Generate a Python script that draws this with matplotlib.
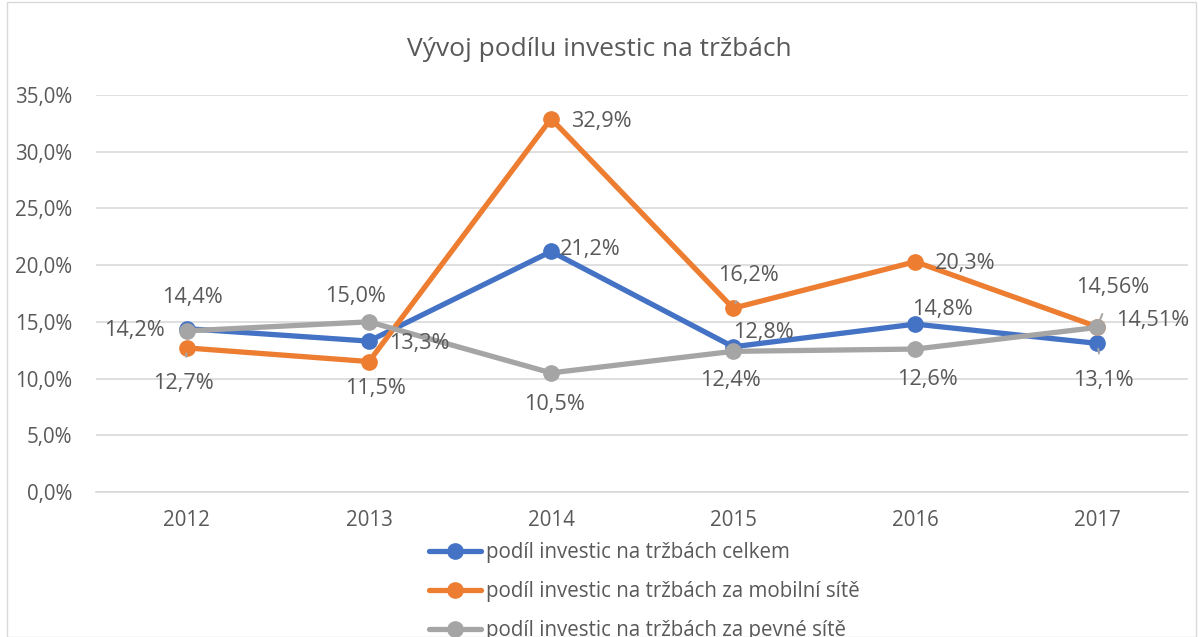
import matplotlib.pyplot as plt
from matplotlib.patches import Rectangle

# Data
years = ["2012", "2013", "2014", "2015", "2016", "2017"]
celkem = [14.4, 13.3, 21.2, 12.8, 14.8, 13.1]
mobilni = [12.7, 11.5, 32.9, 16.2, 20.3, 14.56]
pevne = [14.2, 15.0, 10.5, 12.4, 12.6, 14.51]
celkem_lbl = ["14,4%", "13,3%", "21,2%", "12,8%", "14,8%", "13,1%"]
mobilni_lbl = ["12,7%", "11,5%", "32,9%", "16,2%", "20,3%", "14,56%"]
pevne_lbl = ["14,2%", "15,0%", "10,5%", "12,4%", "12,6%", "14,51%"]
names = ["podíl investic na tržbách celkem",
         "podíl investic na tržbách za mobilní sítě",
         "podíl investic na tržbách za pevné sítě"]

# label offsets in pixels (dx, dy screen-up) and whether a leader line is drawn
celkem_off = [(6, 31, True), (50, -2, False), (39, 2, False), (30, 14, False), (27, 15, False), (6, -37, True)]
mobilni_off = [(-3, -36, True), (7, -27, False), (50, -3, False), (15, 33, True), (50, -2, False), (15, 39, True)]
pevne_off = [(-52, 0, False), (-13, 25, False), (3, -32, False), (-3, -29, False), (12, -30, False), (55, 7, False)]

colors = ["#4472c4", "#ed7d31", "#a5a5a5"]
text_color = "#595959"

plt.rcParams['font.family'] = ['Open Sans', 'DejaVu Sans']

fig = plt.figure(figsize=(11.98, 6.37), dpi=100)
ax = fig.add_axes([0.080, 0.2276, 0.912, 0.6234])

x = list(range(len(years)))
series = [(celkem, celkem_lbl, celkem_off), (mobilni, mobilni_lbl, mobilni_off), (pevne, pevne_lbl, pevne_off)]
for (vals, lbls, offs), c, name in zip(series, colors, names):
    ax.plot(x, vals, color=c, lw=3.8, marker="o", markersize=11, label=name,
            solid_capstyle="round", zorder=3)

for (vals, lbls, offs) in series:
    for xi, v, t, (dx, dy, lead) in zip(x, vals, lbls, offs):
        kw = {}
        if lead:
            kw["arrowprops"] = dict(arrowstyle="-", color="#a6a6a6", lw=1.5, shrinkA=10, shrinkB=4)
        ax.annotate(t, (xi, v), xytext=(dx * 0.72, dy * 0.72), textcoords="offset points",
                    ha="center", va="center", fontsize=15.6, color=text_color, zorder=5, **kw)

ax.set_xlim(-0.5, 5.5)
ax.set_ylim(0, 35)
ax.set_xticks(x)
ax.set_xticklabels(years)
ax.set_yticks([0, 5, 10, 15, 20, 25, 30, 35])
ax.set_yticklabels(["0,0%", "5,0%", "10,0%", "15,0%", "20,0%", "25,0%", "30,0%", "35,0%"])
ax.tick_params(axis="both", length=0, labelsize=14.8, labelcolor=text_color)
ax.tick_params(axis="y", pad=17)
ax.tick_params(axis="x", pad=13)
ax.grid(axis="y", color="#d9d9d9", lw=1.2)
ax.set_axisbelow(True)
for s in ["top", "right", "left"]:
    ax.spines[s].set_visible(False)
ax.spines["bottom"].set_color("#d9d9d9")
ax.spines["bottom"].set_linewidth(1.2)

fig.text(0.5, 1 - 49 / 637, "Vývoj podílu investic na tržbách", ha="center", va="center",
         fontsize=19, color=text_color)

fig.legend(loc="upper left", bbox_to_anchor=(429 / 1198, 1 - 542 / 637), frameon=False,
           fontsize=14.8, labelcolor=text_color, handlelength=2.55, handletextpad=0.2,
           labelspacing=0.88, borderaxespad=0, borderpad=0)

fig.add_artist(Rectangle((7 / 1198, 0), 1 - 9 / 1198, 1 - 2 / 637, transform=fig.transFigure,
                         fill=False, edgecolor="#d9d9d9", lw=1))

fig.savefig("out.png", dpi=100)
